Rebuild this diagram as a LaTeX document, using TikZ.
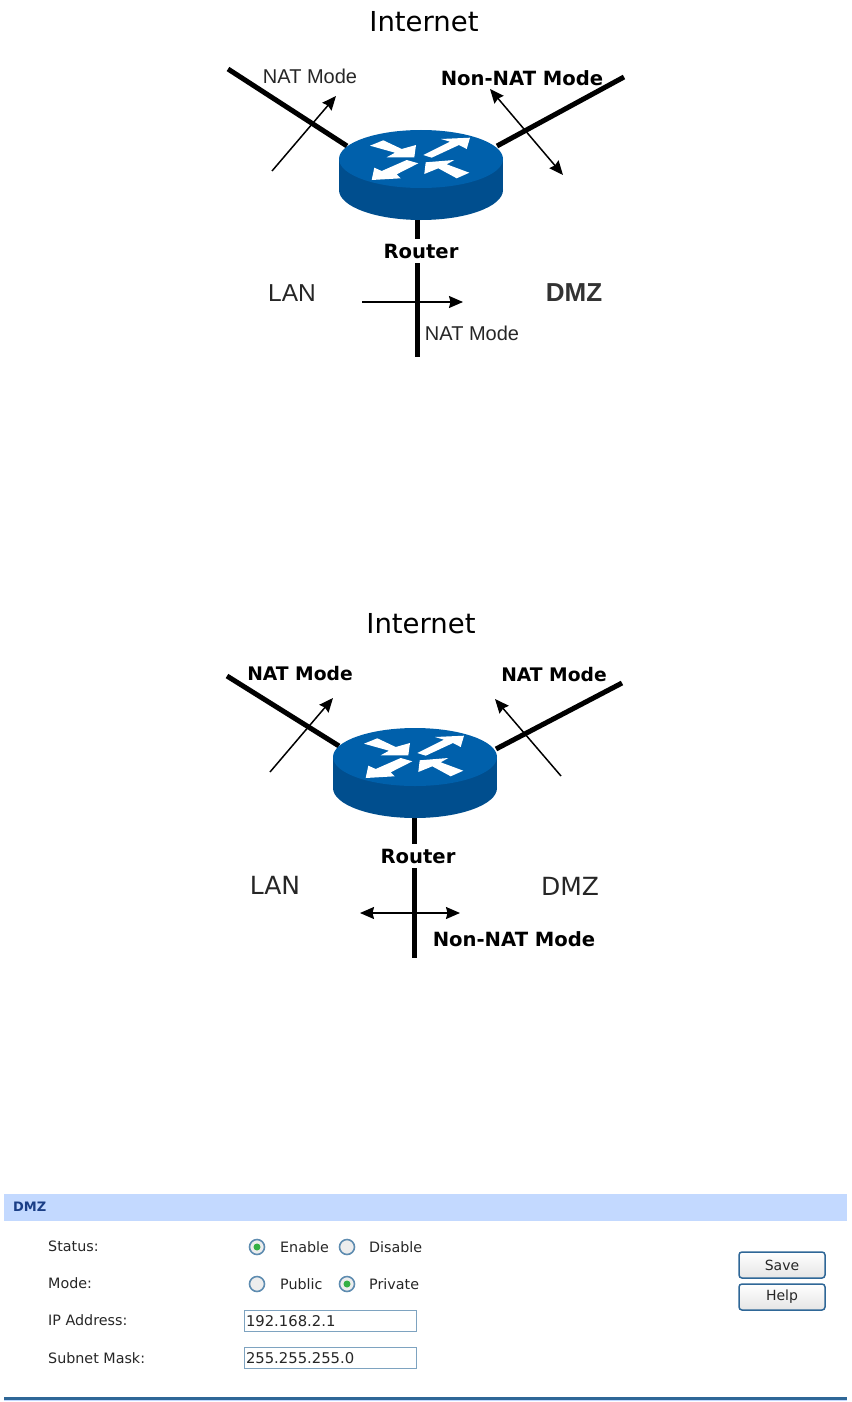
\documentclass[tikz,border=0pt]{standalone}
\usepackage{fontspec}
\setmainfont{DejaVu Sans}
\newfontfamily\arialfont{Liberation Sans}
\usepackage{tikz}
\usetikzlibrary{arrows.meta,positioning,calc}

\definecolor{routertop}{HTML}{0060AB}
\definecolor{routerside}{HTML}{004E8E}
\definecolor{barblue}{HTML}{C3D9FF}
\definecolor{edgeblue}{HTML}{5E8CB0}
\definecolor{rulecol}{HTML}{2F6797}
\definecolor{titlecol}{HTML}{1A3E86}
\definecolor{dotgreen}{HTML}{35B044}

\tikzset{
    pics/routericon/.style={code={
        \fill[routerside] (0,31) ellipse[x radius=82,y radius=30];
        \fill[routerside] (-82,0) rectangle (82,31);
        \fill[routertop] (0,0) ellipse[x radius=82,y radius=29];
        \fill[white] (-51,-13.3) -- (-37.7,-18.7) -- (-19.3,-10) -- (-5,-14) -- (-6.7,-1.7) -- (-34.3,-1.7) -- (-26,-6.3) -- cycle;
        \fill[white] (2.3,-4) -- (29,-17.3) -- (20,-20) -- (49,-21.3) -- (45.7,-10) -- (38,-14) -- (10.7,-1.3) -- cycle;
        \fill[white] (-2.7,4.3) -- (-24.3,15.3) -- (-20.3,19.3) -- (-49.3,21) -- (-46.7,8.7) -- (-39.3,12) -- (-14.3,1) -- cycle;
        \fill[white] (4.7,3.3) -- (33.3,1) -- (25.7,5.3) -- (48.3,13.7) -- (35.7,19.3) -- (17.3,9.3) -- (3.3,15) -- cycle;
    }}
}

\begin{document}
\begin{tikzpicture}[
    x=1pt, y=-1pt,
    >={Stealth[length=14pt,width=12pt,inset=1.5pt]},
    wire/.style={line width=5pt, black},
    arrow/.style={line width=1.5pt, black},
    title/.style={inner sep=0pt, font=\fontsize{27.5}{29}\selectfont},
    plainlabel/.style={inner sep=0pt, font=\arialfont\fontsize{20}{22}\selectfont, text=black!85},
    boldlabel/.style={inner sep=0pt, font=\bfseries\fontsize{18.7}{20}\selectfont},
    widelabel/.style={inner sep=0pt, font=\bfseries\fontsize{19.6}{21}\selectfont},
    routerlabel/.style={widelabel, fill=white, inner xsep=2pt, inner ysep=5pt},
    zonelabel/.style={inner sep=0pt, font=\fontsize{25}{27}\selectfont, text=black!85},
    formlabel/.style={inner sep=0pt, anchor=west, font=\fontsize{14.3}{16}\selectfont, text=black!85},
    radiobtn/.style={circle, draw=edgeblue, fill=black!7, line width=1.6pt, minimum size=15pt, inner sep=0pt},
    radioon/.style={radiobtn, path picture={\fill[dotgreen] (path picture bounding box.center) circle (3.5pt);}},
    inputbox/.style={rectangle, draw=edgeblue!80, fill=white, line width=1pt, minimum width=172pt, minimum height=21pt, inner sep=2pt, text depth=0pt, font=\fontsize{14.8}{16}\selectfont, text=black!85},
    btn/.style={rectangle, rounded corners=3pt, draw=rulecol, line width=1.5pt, top color=white, bottom color=black!10, minimum width=86pt, minimum height=26pt, inner sep=0pt, font=\fontsize{14}{16}\selectfont, text=black!85}
]
\useasboundingbox (0,0) rectangle (851,1402);

% first picture
\coordinate (aWireL) at (228,69);
\coordinate (aPortL) at (347,146);
\coordinate (aWireR) at (624,77);
\coordinate (aPortR) at (497,146);
\coordinate (aPortB) at (417,215);
\coordinate (aWireB) at (417,357);
\draw[wire] (aWireL) -- (aPortL);
\draw[wire] (aWireR) -- (aPortR);
\draw[wire] (aPortB) -- (aWireB);
\pic at (421,159) {routericon};

\node[title] (aInternet) at (424,22) {Internet};
\node[plainlabel] (aNatL) at (310,76) {NAT Mode};
\node[widelabel] (aNonNat) at (522,78) {Non-NAT Mode};
\node[routerlabel] (aRouter) at (421,251) {Router};
\node[inner sep=0pt, font=\arialfont\fontsize{24.5}{26}\selectfont, text=black!85] (aLan) at (292,293) {LAN};
\node[inner sep=0pt, font=\arialfont\bfseries\fontsize{26}{28}\selectfont, text=black!80] (aDmz) at (574,293) {DMZ};
\node[plainlabel] (aNatB) at (472,333) {NAT Mode};

\coordinate (aOutA) at (272,171);
\coordinate (aOutB) at (336,96);
\coordinate (aBothA) at (490,89);
\coordinate (aBothB) at (563,175);
\coordinate (aLanA) at (362,302);
\coordinate (aLanB) at (463,302);
\draw[arrow,->] (aOutA) -- (aOutB);
\draw[arrow,<->] (aBothA) -- (aBothB);
\draw[arrow,->] (aLanA) -- (aLanB);

% second picture
\coordinate (bWireL) at (227,676);
\coordinate (bPortL) at (339,746);
\coordinate (bWireR) at (622,683);
\coordinate (bPortR) at (496,749);
\coordinate (bPortB) at (414,812);
\coordinate (bWireB) at (414,958);
\draw[wire] (bWireL) -- (bPortL);
\draw[wire] (bWireR) -- (bPortR);
\draw[wire] (bPortB) -- (bWireB);
\pic at (415,757) {routericon};

\node[title] (bInternet) at (421,624) {Internet};
\node[boldlabel] (bNatL) at (300,674) {NAT Mode};
\node[boldlabel] (bNatR) at (554,675) {NAT Mode};
\node[routerlabel] (bRouter) at (418,856) {Router};
\node[zonelabel] (bLan) at (275,885) {LAN};
\node[zonelabel] (bDmz) at (570,886) {DMZ};
\node[widelabel] (bNonNat) at (514,939) {Non-NAT Mode};

\coordinate (bOutA) at (270,772);
\coordinate (bOutB) at (333,698);
\coordinate (bInA) at (561,776);
\coordinate (bInB) at (495,699);
\coordinate (bLanA) at (360,913);
\coordinate (bLanB) at (460,913);
\draw[arrow,->] (bOutA) -- (bOutB);
\draw[arrow,->] (bInA) -- (bInB);
\draw[arrow,<->] (bLanA) -- (bLanB);

% settings form
\fill[barblue] (4,1194) rectangle (847,1221);
\node[inner sep=0pt, anchor=west, font=\bfseries\fontsize{13}{15}\selectfont, text=titlecol] (formTitle) at (13,1207) {DMZ};

\node[formlabel] (statusLbl) at (48,1246) {Status:};
\node[formlabel] (modeLbl) at (48,1283) {Mode:};
\node[formlabel] (ipLbl) at (48,1320) {IP Address:};
\node[formlabel] (maskLbl) at (48,1358) {Subnet Mask:};

\node[radioon] (enableBtn) at (257,1247) {};
\node[formlabel] (enableLbl) at (280,1247) {Enable};
\node[radiobtn] (disableBtn) at (347,1247) {};
\node[formlabel] (disableLbl) at (369,1247) {Disable};
\node[radiobtn] (publicBtn) at (257,1284) {};
\node[formlabel] (publicLbl) at (280,1284) {Public};
\node[radioon] (privateBtn) at (347,1284) {};
\node[formlabel] (privateLbl) at (369,1284) {Private};

\node[inputbox, align=left, text width=168pt] (ipBox) at (330,1320.5) {192.168.2.1};
\node[inputbox, align=left, text width=168pt] (maskBox) at (330,1357.5) {255.255.255.0};

\node[btn] (saveBtn) at (782,1265) {Save};
\node[btn] (helpBtn) at (782,1297) {Help};

\fill[rulecol] (4,1397) rectangle (847,1399.5);
\fill[barblue] (4,1399.5) rectangle (847,1401);
\end{tikzpicture}
\end{document}
